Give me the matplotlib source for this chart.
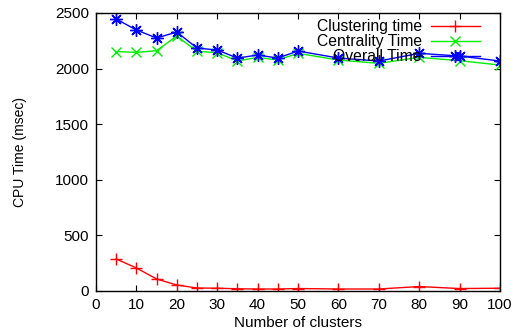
import matplotlib
matplotlib.use("Agg")
import matplotlib.pyplot as plt

clusters = [5, 10, 15, 20, 25, 30, 35, 40, 45, 50, 60, 70, 80, 90, 100]
clustering_time = [288, 207, 108, 54, 27, 25, 20, 18, 18, 22, 18, 18, 40, 22, 25]
centrality_time = [2153, 2146, 2161, 2293, 2155, 2143, 2068, 2101, 2077, 2137, 2077, 2047, 2101, 2071, 2032]
overall_time = [2446, 2347, 2275, 2329, 2185, 2167, 2095, 2122, 2095, 2158, 2095, 2068, 2137, 2113, 2068]

xticks = list(range(0, 101, 10))
yticks = list(range(0, 2501, 500))

plt.rcParams['font.family'] = ['Liberation Sans', 'DejaVu Sans']
fig = plt.figure(figsize=(5.14, 3.36), dpi=100)
ax = fig.add_axes([96/514, 1-291/336, (500-96)/514, (291-13)/336])

ax.plot(clusters, clustering_time, color='#ff0000', marker='+', markersize=8, lw=1, mew=1, label='Clustering time')
ax.plot(clusters, centrality_time, color='#00ee00', marker='x', markersize=7, lw=1, mew=1, label='Centrality Time')
ax.plot(clusters, overall_time, color='#0000ff', marker=(8, 2, 0), markersize=9, lw=1, mew=1, label='Overall Time')

ax.set_xlim(0, 100)
ax.set_ylim(0, 2500)
ax.set_xticks(xticks)
ax.set_yticks(yticks)
ax.tick_params(direction='in', top=True, right=True, labelsize=11, length=4, width=0.8, pad=5)
for s in ax.spines.values():
    s.set_linewidth(1)
ax.set_xlabel('Number of clusters', fontsize=11, labelpad=3)
ax.set_ylabel('CPU Time (msec)', fontsize=10, labelpad=20)

ax.legend(loc='upper right', bbox_to_anchor=(0.950, 0.978), frameon=False, markerfirst=False,
          fontsize=11.3, handlelength=3.1, labelspacing=0.0, handletextpad=0.6,
          borderaxespad=0, borderpad=0)

fig.savefig('out.png', dpi=100)
